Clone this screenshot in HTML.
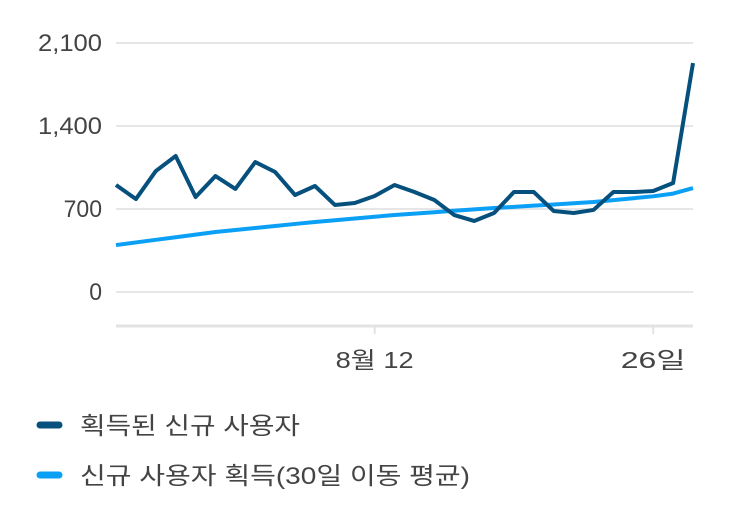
<!DOCTYPE html>
<html><head><meta charset="utf-8"><style>
body{margin:0;background:#fff;}
svg text{font-family:"Liberation Sans","Noto Sans CJK KR",sans-serif;fill:#444;}
</style></head><body>
<svg width="743" height="512" viewBox="0 0 743 512">
<g id="grid"></g><g id="series"></g><g id="xaxis"></g>
<g>
 <g>
  <line x1="40" y1="425" x2="59" y2="425" stroke="#06507e" stroke-width="7" stroke-linecap="round"/>
  <text x="80" y="434" font-size="24" textLength="220" lengthAdjust="spacingAndGlyphs">획득된 신규 사용자</text>
 </g>
 <g>
  <line x1="40" y1="475" x2="59" y2="475" stroke="#0ba0f5" stroke-width="7" stroke-linecap="round"/>
  <text x="80" y="484" font-size="24" textLength="390" lengthAdjust="spacingAndGlyphs">신규 사용자 획득(30일 이동 평균)</text>
 </g>
</g>
</svg>
<script>
const acquired=[902,784,1020,1147,801,978,869,1096,1012,818,894,734,751,810,902,843,776,649,599,666,843,843,683,666,692,843,843,852,919,1931];
const movingAvg=[396,418,440,462,484,506,523,540,557,574,590,605,620,635,649,661,673,685,697,708,718,728,738,748,759,775,791,807,830,877];
const yTicks=[0,700,1400,2100];
const yTickLabels=["0","700","1,400","2,100"];
const xTickIdx=[13,27];
const xTickLabels=["8월 12","26일"];
const NS="http://www.w3.org/2000/svg";
const x=i=>116+i*(577/(acquired.length-1));
const y=v=>292-v*(83/700);
const grid=document.getElementById('grid');
yTicks.forEach((t,k)=>{
 const l=document.createElementNS(NS,'line');
 l.setAttribute('x1',116);l.setAttribute('x2',693);l.setAttribute('y1',y(t));l.setAttribute('y2',y(t));
 l.setAttribute('stroke','#e6e6e6');l.setAttribute('stroke-width','2');
 
 
 grid.appendChild(l);
 const tx=document.createElementNS(NS,'text');
 tx.setAttribute('x',102);tx.setAttribute('y',y(t)+8);tx.setAttribute('text-anchor','end');tx.setAttribute('font-size','24');
 tx.setAttribute('textLength',yTickLabels[k].length*12.8);tx.setAttribute('lengthAdjust','spacingAndGlyphs');
 tx.textContent=yTickLabels[k];
 
 
 grid.appendChild(tx);
});
const xa=document.getElementById('xaxis');
const ax=document.createElementNS(NS,'line');
ax.setAttribute('x1',116);ax.setAttribute('x2',693);ax.setAttribute('y1',326);ax.setAttribute('y2',326);
ax.setAttribute('stroke','#e3e3e6');ax.setAttribute('stroke-width','3');


xa.appendChild(ax);
const xLabelWidths=[78,65];
xTickIdx.forEach((idx,k)=>{
 const tk=document.createElementNS(NS,'line');
 tk.setAttribute('x1',x(idx));tk.setAttribute('x2',x(idx));tk.setAttribute('y1',326);tk.setAttribute('y2',334);
 tk.setAttribute('stroke','#e3e3e6');tk.setAttribute('stroke-width','2');
 
 
 xa.appendChild(tk);
 const tx=document.createElementNS(NS,'text');
 tx.setAttribute('x',x(idx));tx.setAttribute('y',368);tx.setAttribute('text-anchor','middle');tx.setAttribute('font-size','23');
 tx.setAttribute('textLength',xLabelWidths[k]);tx.setAttribute('lengthAdjust','spacingAndGlyphs');
 tx.textContent=xTickLabels[k];
 
 
 xa.appendChild(tx);
});
const s=document.getElementById('series');
function line(data,color,name){
 const p=document.createElementNS(NS,'polyline');
 p.setAttribute('points',data.map((v,i)=>x(i)+','+y(v)).join(' '));
 p.setAttribute('fill','none');p.setAttribute('stroke',color);p.setAttribute('stroke-width','4');
 p.setAttribute('stroke-linejoin','round');
 
 
 s.appendChild(p);
}
line(movingAvg,'#0ba0f5','moving-average-line');
line(acquired,'#06507e','acquired-users-line');
</script>
</body></html>
